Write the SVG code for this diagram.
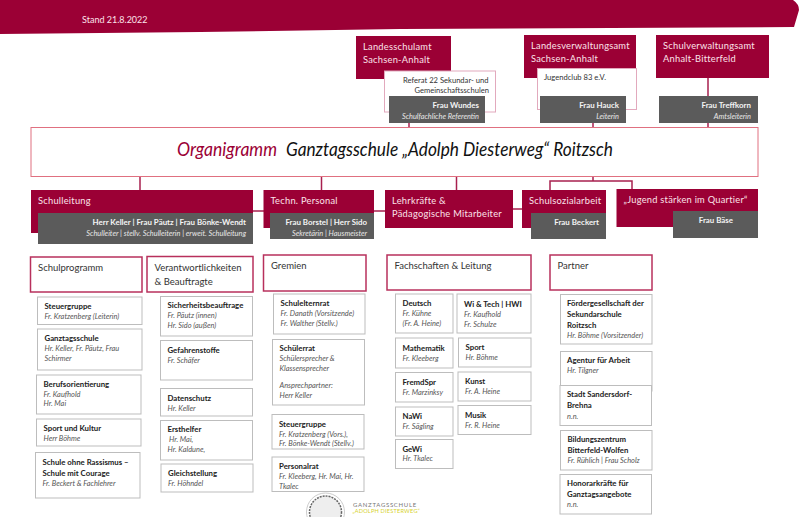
<svg xmlns="http://www.w3.org/2000/svg" width="800" height="517" viewBox="0 0 800 517">
<style>
text{font-family:Lato,"Liberation Sans",sans-serif}
.r{fill:#9b0035}
.g{fill:#5b5b5b}
.h{font-size:9.300px;fill:#fbe3ea;letter-spacing:.25px}
.wb{font-size:7.900px;font-weight:700;fill:#f4f4f4;text-anchor:end}
.wi{font-size:7.400px;font-style:italic;fill:#e8e8e8;text-anchor:end}
.c{fill:none;stroke:#a8204f;stroke-width:1.500}
.sec{fill:#fff;stroke:#b8305c;stroke-width:1.500}
.sh{font-size:9.500px;fill:#333}
.b{fill:#fff;stroke:#bdbdbd;stroke-width:1}
.t{font-size:7.800px;font-weight:700;fill:#222}
.i{font-size:7.400px;font-style:italic;fill:#555}
.p{fill:#fff;stroke:#e2a9bd;stroke-width:1}
.n{font-size:7.600px;fill:#333}
</style>
<path class="r" d="M0 0H793Q799 4 799 10L794 27L400 29L200 32L0 34Z"/>
<text x="82" y="23" font-size="9" fill="#fbe3ea">Stand 21.8.2022</text>
<g id="connectors">
<path class="c" d="M140 176V190M321.500 176V190M456.500 176V190M593 176V181M550 190V181H632V190M708 78V96M708 123V127M593 123V127M409 123V127M253 211H264M374 211H385M513 209H522"/>
</g>
<g id="landesschulamt">
<rect class="r" x="356" y="36" width="95" height="43"/>
<text class="h" x="363" y="49.500">Landesschulamt</text><text class="h" x="363" y="63">Sachsen-Anhalt</text>
<rect class="p" x="384.500" y="71" width="111" height="41"/>
<text class="n" x="488.500" y="82.500" text-anchor="end">Referat 22 Sekundar- und</text><text class="n" x="489" y="93" text-anchor="end">Gemeinschaftsschulen</text>
<rect class="g" x="389" y="96" width="96" height="27"/>
<text class="wb" x="479" y="108">Frau Wundes</text><text class="wi" x="479" y="118.500">Schulfachliche Referentin</text>
</g>
<g id="landesverwaltungsamt">
<rect class="r" x="524" y="35" width="112" height="43"/>
<text class="h" x="531" y="48.500">Landesverwaltungsamt</text><text class="h" x="531" y="62">Sachsen-Anhalt</text>
<rect class="p" x="537.500" y="68.500" width="99" height="41"/>
<text class="n" x="544" y="80">Jugendclub 83 e.V.</text>
<rect class="g" x="540" y="96" width="86" height="27"/>
<text class="wb" x="619" y="108">Frau Hauck</text><text class="wi" x="619" y="118.500">Leiterin</text>
</g>
<g id="schulverwaltungsamt">
<rect class="r" x="656" y="35" width="113" height="43"/>
<text class="h" x="663" y="48.500">Schulverwaltungsamt</text><text class="h" x="663" y="62">Anhalt-Bitterfeld</text>
<rect class="g" x="659" y="96" width="99" height="27"/>
<text class="wb" x="751" y="108">Frau Treffkorn</text><text class="wi" x="751" y="118.500">Amtsleiterin</text>
</g>
<g id="title">
<rect x="31" y="127.500" width="727" height="49" fill="#fff" stroke="#e07080" stroke-width="1"/>
<text x="177" y="156" font-size="20" font-style="italic" fill="#9b0035" textLength="100" lengthAdjust="spacingAndGlyphs">Organigramm</text>
<text x="286" y="156" font-size="20" font-style="italic" fill="#111" textLength="327" lengthAdjust="spacingAndGlyphs">Ganztagsschule „Adolph Diesterweg“ Roitzsch</text>
</g>
<g id="schulleitung">
<rect class="r" x="31" y="190" width="222" height="43"/>
<text class="h" x="38" y="203.500">Schulleitung</text>
<rect class="g" x="38" y="213" width="215" height="31"/>
<text class="wb" x="246" y="225">Herr Keller | Frau Päutz | Frau Bönke-Wendt</text><text class="wi" x="246" y="235.500">Schulleiter | stellv. Schulleiterin | erweit. Schulleitung</text>
</g>
<g id="personal">
<rect class="r" x="263.500" y="190" width="110.500" height="38"/>
<text class="h" x="270.500" y="203.500">Techn. Personal</text>
<rect class="g" x="270" y="213" width="104" height="26"/>
<text class="wb" x="367" y="225">Frau Borstel | Herr Sido</text><text class="wi" x="367" y="235.500">Sekretärin | Hausmeister</text>
</g>
<g id="lehrkraefte">
<rect class="r" x="385" y="190" width="128" height="38"/>
<text class="h" x="392" y="203.500">Lehrkräfte &amp;</text><text class="h" x="392" y="217">Pädagogische Mitarbeiter</text>
</g>
<g id="sozial">
<rect class="r" x="522" y="190" width="84" height="38"/>
<text class="h" x="529" y="203.500">Schulsozialarbeit</text>
<rect class="g" x="531" y="213" width="75" height="26"/>
<text class="wb" x="599" y="225">Frau Beckert</text>
</g>
<g id="jugend">
<rect class="r" x="616.500" y="189" width="141.500" height="38"/>
<text class="h" x="623.500" y="202.500">„Jugend stärken im Quartier“</text>
<rect class="g" x="673" y="211" width="85" height="27"/>
<text class="wb" x="733" y="223">Frau Bäse</text>
</g>
<g id="schulprogramm">
<rect class="sec" x="30.500" y="257" width="111.500" height="35"/><text class="sh" x="38" y="271">Schulprogramm</text>
<rect class="b" x="37.500" y="297" width="104.500" height="27.500"/><text class="t" x="44.500" y="309">Steuergruppe</text><text class="i" x="44.500" y="319">Fr. Kratzenberg (Leiterin)</text>
<rect class="b" x="37.500" y="329" width="104.500" height="41"/><text class="t" x="44.500" y="341">Ganztagsschule</text><text class="i" x="44.500" y="351">Hr. Keller, Fr. Päutz, Frau</text><text class="i" x="44.500" y="361">Schirmer</text>
<rect class="b" x="36.500" y="375" width="104.500" height="39"/><text class="t" x="43.500" y="387">Berufsorientierung</text><text class="i" x="43.500" y="397">Fr. Kaufhold</text><text class="i" x="43.500" y="406">Hr. Mai</text>
<rect class="b" x="36.500" y="419" width="104.500" height="27"/><text class="t" x="43.500" y="431">Sport und Kultur</text><text class="i" x="43.500" y="441">Herr Böhme</text>
<rect class="b" x="35.500" y="452.500" width="104.500" height="45.500"/><text class="t" x="42.500" y="465">Schule ohne Rassismus –</text><text class="t" x="42.500" y="476">Schule mit Courage</text><text class="i" x="42.500" y="486">Fr. Beckert &amp; Fachlehrer</text>
</g>
<g id="verantwortlichkeiten">
<rect class="sec" x="147" y="256.500" width="106" height="35.500"/><text class="sh" x="154.500" y="271">Verantwortlichkeiten</text><text class="sh" x="154.500" y="284.500">&amp; Beauftragte</text>
<rect class="b" x="160.500" y="296.500" width="92" height="39.500"/><text class="t" x="167.500" y="308">Sicherheitsbeauftrage</text><text class="i" x="167.500" y="318">Fr. Päutz (innen)</text><text class="i" x="167.500" y="328">Hr. Sido (außen)</text>
<rect class="b" x="160.500" y="340.500" width="92" height="39.500"/><text class="t" x="167.500" y="353">Gefahrenstoffe</text><text class="i" x="167.500" y="363">Fr. Schäfer</text>
<rect class="b" x="160.500" y="388.500" width="92" height="27.500"/><text class="t" x="167.500" y="401">Datenschutz</text><text class="i" x="167.500" y="411">Hr. Keller</text>
<rect class="b" x="160.500" y="420.500" width="92" height="39.500"/><text class="t" x="167.500" y="432">Ersthelfer</text><text class="i" x="169" y="442">Hr. Mai,</text><text class="i" x="167.500" y="452">Hr. Kaldune,</text>
<rect class="b" x="161" y="464" width="92" height="28"/><text class="t" x="168" y="476">Gleichstellung</text><text class="i" x="168" y="486">Fr. Höhndel</text>
</g>
<g id="gremien">
<rect class="sec" x="263.500" y="255" width="102.500" height="36"/><text class="sh" x="271" y="269">Gremien</text>
<rect class="b" x="273.500" y="294" width="91.500" height="40"/><text class="t" x="280.500" y="306">Schulelternrat</text><text class="i" x="280.500" y="316">Fr. Danath (Vorsitzende)</text><text class="i" x="280.500" y="326">Fr. Walther (Stellv.)</text>
<rect class="b" x="272.500" y="339.500" width="92" height="65.500"/><text class="t" x="279.500" y="351">Schülerrat</text><text class="i" x="279.500" y="361">Schülersprecher &amp;</text><text class="i" x="279.500" y="371">Klassensprecher</text><text class="i" x="279.500" y="388">Ansprechpartner:</text><text class="i" x="279.500" y="398">Herr Keller</text>
<rect class="b" x="272" y="414.500" width="92" height="34.500"/><text class="t" x="279" y="426.500">Steuergruppe</text><text class="i" x="279" y="437">Fr. Kratzenberg (Vors.),</text><text class="i" x="279" y="446">Fr. Bönke-Wendt (Stellv.)</text>
<rect class="b" x="272" y="457" width="92" height="34.500"/><text class="t" x="279" y="469">Personalrat</text><text class="i" x="279" y="479">Fr. Kleeberg, Hr. Mai, Hr.</text><text class="i" x="279" y="488.500">Tkalec</text>
</g>
<g id="fachschaften">
<rect class="sec" x="387" y="255" width="144" height="35"/><text class="sh" x="394.500" y="269">Fachschaften &amp; Leitung</text>
<rect class="b" x="395.500" y="294" width="57.500" height="39"/><text class="t" x="402.500" y="306">Deutsch</text><text class="i" x="402.500" y="316">Fr. Kühne</text><text class="i" x="402.500" y="326">(Fr. A. Heine)</text>
<rect class="b" x="395.500" y="338" width="57.500" height="30"/><text class="t" x="402.500" y="351">Mathematik</text><text class="i" x="402.500" y="361">Fr. Kleeberg</text>
<rect class="b" x="395.500" y="372.500" width="57.500" height="29.500"/><text class="t" x="402.500" y="385">FremdSpr</text><text class="i" x="402.500" y="395">Fr. Marzinksy</text>
<rect class="b" x="395.500" y="407" width="57.500" height="29"/><text class="t" x="402.500" y="419">NaWi</text><text class="i" x="402.500" y="429">Fr. Sägling</text>
<rect class="b" x="395.500" y="439.500" width="57.500" height="29"/><text class="t" x="402.500" y="452">GeWi</text><text class="i" x="402.500" y="461">Hr. Tkalec</text>
<rect class="b" x="457" y="294" width="74" height="39"/><text class="t" x="464" y="307">Wi &amp; Tech | HWI</text><text class="i" x="464" y="317">Fr. Kaufhold</text><text class="i" x="464" y="327">Fr. Schulze</text>
<rect class="b" x="458.500" y="338" width="72.500" height="29"/><text class="t" x="465.500" y="350">Sport</text><text class="i" x="465.500" y="360">Hr. Böhme</text>
<rect class="b" x="458" y="372" width="73" height="29"/><text class="t" x="465" y="384">Kunst</text><text class="i" x="465" y="394">Fr. A. Heine</text>
<rect class="b" x="458" y="405.500" width="73" height="29"/><text class="t" x="465" y="418">Musik</text><text class="i" x="465" y="428">Fr. R. Heine</text>
</g>
<g id="partner">
<rect class="sec" x="550" y="255" width="102" height="35"/><text class="sh" x="557.500" y="269">Partner</text>
<rect class="b" x="560.500" y="294.500" width="91.500" height="49.500"/><text class="t" x="567" y="306">Fördergesellschaft der</text><text class="t" x="567" y="317">Sekundarschule</text><text class="t" x="567" y="328">Roitzsch</text><text class="i" x="567" y="338">Hr. Böhme (Vorsitzender)</text>
<rect class="b" x="560.500" y="351.500" width="91.500" height="39.500"/><text class="t" x="567" y="363">Agentur für Arbeit</text><text class="i" x="567" y="373">Hr. Tilgner</text>
<rect class="b" x="560" y="385.500" width="91.500" height="40"/><text class="t" x="567" y="397">Stadt Sandersdorf-</text><text class="t" x="567" y="408">Brehna</text><text class="i" x="567" y="419">n.n.</text>
<rect class="b" x="560.500" y="430.500" width="91.500" height="39.500"/><text class="t" x="567.500" y="442">Bildungszentrum</text><text class="t" x="567.500" y="453">Bitterfeld-Wolfen</text><text class="i" x="567.500" y="463">Fr. Rühlich | Frau Scholz</text>
<rect class="b" x="560" y="474.500" width="91.500" height="39.500"/><text class="t" x="567" y="486">Honorarkräfte für</text><text class="t" x="567" y="497">Ganztagsangebote</text><text class="i" x="567" y="507">n.n.</text>
</g>
<g id="logo">
<circle cx="325.500" cy="512" r="19" fill="#fff" stroke="#ccc" stroke-width="1"/>
<circle cx="325.500" cy="512" r="16" fill="#eee" stroke="#666" stroke-width="1.500" stroke-dasharray="2 1"/>
<text x="353" y="506.500" font-size="6" fill="#777" letter-spacing=".7">GANZTAGSSCHULE</text>
<text x="352.500" y="513" font-size="5.600" fill="#d6d22a" letter-spacing=".2">„ADOLPH DIESTERWEG“</text>
</g>
</svg>
